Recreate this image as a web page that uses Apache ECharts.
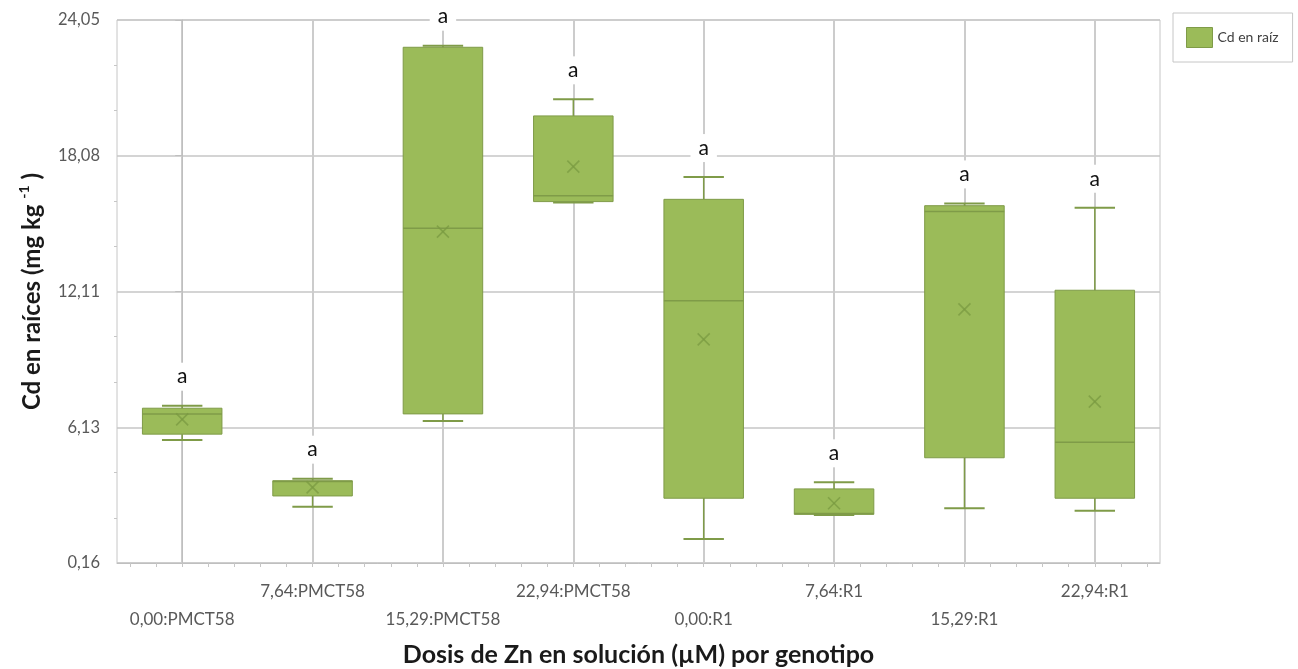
<!DOCTYPE html>
<html>
<head>
<meta charset="utf-8">
<script src="https://cdn.jsdelivr.net/npm/echarts@6/dist/echarts.min.js"></script>
<style>
  html, body { margin: 0; padding: 0; background: #ffffff; }
  #chart { width: 1298px; height: 669px; }
</style>
</head>
<body>
<div id="chart"></div>
<script>
// Cd concentration in roots by Zn dose and genotype (box plots)
const categories = ['0,00:PMCT58', '7,64:PMCT58', '15,29:PMCT58', '22,94:PMCT58',
                    '0,00:R1', '7,64:R1', '15,29:R1', '22,94:R1'];
const minVals    = [5.57, 2.64, 6.41, 16.02, 1.22, 2.27, 2.57, 2.46];
const q1Vals     = [5.83, 3.11, 6.72, 16.06, 3.01, 2.30, 4.79, 3.01];
const medianVals = [6.72, 3.75, 14.89, 16.32, 11.70, 2.34, 15.62, 5.47];
const q3Vals     = [6.97, 3.78, 22.85, 19.83, 16.16, 3.42, 15.88, 12.16];
const maxVals    = [7.08, 3.87, 22.92, 20.56, 17.14, 3.71, 15.98, 15.79];
const meanVals   = [6.48, 3.49, 14.74, 17.60, 10.00, 2.79, 11.32, 7.26];
const groupLetters = ['a', 'a', 'a', 'a', 'a', 'a', 'a', 'a'];
const yTicks = [0.16, 6.13, 12.11, 18.08, 24.05];

const FONT = 'Lato, "Open Sans", sans-serif';
const FILL = '#9BBB59';
const EDGE = '#7F9B48';

// minor tick positions: thirds between major y ticks, fifths along each category
const yMinor = [];
for (let k = 0; k < yTicks.length - 1; k++) {
  const step = (yTicks[k + 1] - yTicks[k]) / 3;
  yMinor.push(yTicks[k] + step, yTicks[k] + 2 * step);
}
const xMinor = [];
categories.forEach((c, i) => { for (let k = -2; k <= 2; k++) xMinor.push(i + 0.2 * k); });

const boxData = categories.map((c, i) =>
  [i, minVals[i], q1Vals[i], medianVals[i], q3Vals[i], maxVals[i], meanVals[i]]);

function renderBox(params, api) {
  const i = api.value(0);
  const band = api.size([1, 0])[0];
  const half = band * 0.305;
  const capHalf = band * 0.155;
  const p = (v) => api.coord([i, v]);
  const pMin = p(api.value(1)), pQ1 = p(api.value(2)), pMed = p(api.value(3));
  const pQ3 = p(api.value(4)), pMax = p(api.value(5)), pMean = p(api.value(6));
  const x = pMed[0];
  const line = (x1, y1, x2, y2, w, col, op) => ({
    type: 'line', shape: { x1, y1, x2, y2 },
    style: { stroke: col || EDGE, lineWidth: w || 1.5, opacity: op == null ? 1 : op }
  });
  const m = 6;
  return {
    type: 'group',
    children: [
      line(x, pQ3[1], x, pMax[1]),
      line(x, pQ1[1], x, pMin[1]),
      line(x - capHalf, pMax[1], x + capHalf, pMax[1], 2),
      line(x - capHalf, pMin[1], x + capHalf, pMin[1], 2),
      {
        type: 'rect',
        shape: { x: x - half, y: pQ3[1], width: 2 * half, height: pQ1[1] - pQ3[1] },
        style: { fill: FILL, stroke: EDGE, lineWidth: 1 }
      },
      line(x - half, pMed[1], x + half, pMed[1], 1.5),
      line(x - m, pMean[1] - m, x + m, pMean[1] + m, 1.6, '#7A9A42', 0.75),
      line(x - m, pMean[1] + m, x + m, pMean[1] - m, 1.6, '#7A9A42', 0.75),
      {
        type: 'text',
        x: x, y: pMax[1] - 29,
        style: {
          text: groupLetters[i], fill: '#111', font: '21px ' + FONT,
          align: 'center', verticalAlign: 'middle',
          backgroundColor: '#ffffff', padding: [3, 8, 4, 8]
        }
      }
    ]
  };
}

const chart = echarts.init(document.getElementById('chart'), null, { renderer: 'canvas' });
chart.setOption({
  animation: false,
  backgroundColor: '#ffffff',
  textStyle: { fontFamily: FONT },
  grid: {
    left: 117, right: 138, top: 20, bottom: 106,
    outerBoundsMode: 'none', containLabel: false,
    show: true, borderColor: '#C6C6C6', borderWidth: 1, backgroundColor: 'transparent'
  },
  legend: {
    left: 1173, top: 13,
    padding: [14, 14, 14, 13],
    borderColor: '#C6C6C6', borderWidth: 1, borderRadius: 0,
    itemWidth: 26, itemHeight: 20,
    textStyle: { fontSize: 14, color: '#404040', fontFamily: FONT },
    data: [{ name: 'Cd en raíz', icon: 'rect', itemStyle: { color: FILL, borderColor: EDGE, borderWidth: 1 } }]
  },
  xAxis: [
    {
      type: 'category',
      data: categories,
      name: 'Dosis de Zn en solución (µM) por genotipo',
      nameLocation: 'middle', nameGap: 79,
      nameTextStyle: { fontSize: 25, fontWeight: 'bold', color: '#1a1a1a', fontFamily: FONT },
      axisLine: { lineStyle: { color: '#BFBFBF', width: 1 } },
      axisTick: { show: false },
      splitLine: { show: true, alignWithLabel: true, lineStyle: { color: '#CCCCCC', width: 2 } },
      axisLabel: {
        interval: 0, margin: 15, fontSize: 17, color: '#595959', fontFamily: FONT,
        lineHeight: 28, verticalAlign: 'top',
        formatter: (v, i) => (i % 2 === 0 ? '\n' + v : v)
      }
    },
    {
      type: 'value', position: 'bottom', min: -0.5, max: 7.5,
      axisLine: { show: false },
      axisLabel: { show: false },
      splitLine: { show: false },
      axisTick: { show: true, length: 4, customValues: xMinor, lineStyle: { color: '#C6C6C6' } }
    }
  ],
  yAxis: [
    {
      type: 'value', position: 'left', min: yTicks[0], max: yTicks[yTicks.length - 1],
      name: '{t|Cd en raíces (mg kg }{s|-1}{t| )}',
      nameLocation: 'middle', nameGap: 70,
      nameTextStyle: {
        rich: {
          t: { fontSize: 24, fontWeight: 'bold', color: '#1a1a1a', fontFamily: FONT, lineHeight: 30 },
          s: { fontSize: 14, fontWeight: 'bold', color: '#1a1a1a', fontFamily: FONT, verticalAlign: 'top', lineHeight: 30 }
        }
      },
      axisLine: { show: true, lineStyle: { color: '#BFBFBF', width: 1 } },
      axisTick: { show: true, length: 7, customValues: yTicks, lineStyle: { color: '#BFBFBF' } },
      axisLabel: {
        customValues: yTicks, margin: 17, fontSize: 16.5, color: '#595959', fontFamily: FONT,
        formatter: (v) => v.toFixed(2).replace('.', ',')
      },
      splitLine: { show: true, lineStyle: { color: '#C6C6C6', width: 1.5 } }
    },
    {
      type: 'value', position: 'left', min: yTicks[0], max: yTicks[yTicks.length - 1],
      axisLine: { show: false },
      axisLabel: { show: false },
      splitLine: { show: false },
      axisTick: { show: true, length: 3, customValues: yMinor, lineStyle: { color: '#C6C6C6' } }
    }
  ],
  series: [
    {
      name: 'Cd en raíz',
      type: 'custom',
      xAxisIndex: 0, yAxisIndex: 0,
      clip: false,
      itemStyle: { color: FILL },
      renderItem: renderBox,
      encode: { x: 0, y: [1, 2, 3, 4, 5, 6] },
      data: boxData,
      z: 5
    }
  ]
});
</script>
</body>
</html>
